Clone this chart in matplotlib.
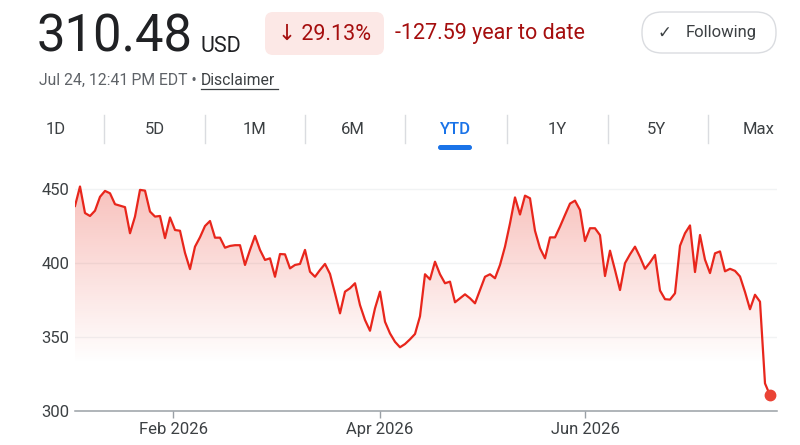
import matplotlib.pyplot as plt
from matplotlib.patches import FancyBboxPatch
import numpy as np
import pandas as pd

plt.rcParams['font.family'] = ['Roboto', 'DejaVu Sans']

# header data
price_text = '310.48'
currency = 'USD'
change_pct = '↓ 29.13%'
change_abs = '-127.59 year to date'
stamp = 'Jul 24, 12:41\u2009PM EDT • '
tabs = ['1D', '5D', '1M', '6M', 'YTD', '1Y', '5Y', 'Max']
active_tab = 'YTD'

# trading days of 2026 up to Jul 24 (NYSE holidays skipped)
holidays = ['2026-01-19', '2026-02-16', '2026-04-03',
            '2026-05-25', '2026-06-19', '2026-07-03']
closes = [
    438.8, 452.0, 434.0, 432.0, 435.6, 445.0, 449.0, 447.4, 440.0, 439.0,
    438.0, 420.3, 431.6, 449.7, 449.2, 435.0, 431.6, 432.0, 417.0, 431.0,
    422.5, 422.0, 407.0, 396.0, 411.2, 417.6, 425.2, 428.6, 417.3, 417.3,
    410.5, 411.7, 412.2, 412.2, 398.8, 409.0, 418.5, 409.0, 402.2, 403.3,
    390.8, 406.2, 406.0, 396.5, 398.8, 399.5, 409.0, 394.2, 390.8, 395.4,
    399.5, 392.7, 379.6, 366.0, 380.7, 383.0, 386.4, 371.6, 361.5, 354.2,
    369.4, 380.7, 360.3, 352.4, 346.7, 343.0, 345.2, 348.4, 352.0, 364.0,
    392.5, 389.0, 401.0, 392.5, 386.4, 387.5, 373.5, 376.2, 378.9, 376.2,
    372.8, 381.8, 390.8, 392.5, 389.8, 398.8, 411.2, 427.0, 444.6, 433.0,
    445.8, 444.0, 422.0, 410.1, 403.3, 417.5, 417.5, 424.8, 432.7, 440.4,
    442.4, 436.1, 415.0, 423.7, 423.7, 419.0, 391.3, 408.5, 395.4, 381.8,
    400.0, 406.0, 411.2, 404.2, 396.2, 400.5, 405.6, 381.5, 375.6, 375.3,
    379.6, 411.8, 420.3, 425.6, 394.0, 419.1, 402.4, 393.3, 406.7, 408.0,
    394.5, 396.2, 394.8, 391.0, 380.5, 368.8, 378.6, 373.9, 318.5, 310.48,
]
tick_months = ['2026-02-01', '2026-04-01', '2026-06-01']
tick_labels = ['Feb 2026', 'Apr 2026', 'Jun 2026']
y_ticks = [300, 350, 400, 450]

dates = pd.bdate_range('2026-01-02', '2026-07-24', freq='C', holidays=holidays)
x = np.arange(len(dates))
tick_pos = np.interp(pd.to_datetime(tick_months).values.astype('int64'),
                     dates.values.astype('int64'), x)

RED = '#e8261c'
DARK_RED = '#a50e0e'
INK = '#202124'
GREY = '#3c4043'

fig = plt.figure(figsize=(8, 4.45), dpi=100)

# overlay in pixel coordinates for the header part
ov = fig.add_axes([0, 0, 1, 1], zorder=0)
ov.set_xlim(0, 800)
ov.set_ylim(445, 0)
ov.axis('off')

ov.text(37, 52, price_text, fontsize=36.5, color=INK, va='baseline')
ov.text(200, 52, currency, fontsize=15.5, color=INK, va='baseline')

ov.add_patch(FancyBboxPatch((265, 12), 119, 43,
                            boxstyle='round,pad=0,rounding_size=8',
                            fc='#fce8e6', ec='none'))
ov.text(324.5, 34, change_pct, fontsize=15.5, color=DARK_RED,
        ha='center', va='center')
ov.text(395, 34, change_abs, fontsize=15.5, color=DARK_RED, va='center')

ov.add_patch(FancyBboxPatch((642, 12), 134, 41,
                            boxstyle='round,pad=0,rounding_size=20',
                            fc='white', ec='#dadce0', lw=1))
ov.text(664, 33, '✓', fontsize=12, color=GREY, ha='center', va='center',
        family=['DejaVu Sans'])
ov.text(686, 33, 'Following', fontsize=12, color=GREY, va='center')

ov.text(39, 80.5, stamp, fontsize=11.3, color='#5f6368', va='center')
ov.text(201, 80.5, 'Disclaimer', fontsize=11.3, color=GREY, va='center')
ov.plot([201, 278], [89, 89], color=GREY, lw=0.9)

tab_x = [56, 154.5, 254.5, 353, 455.5, 557, 656.5, 758.5]
for name, tx in zip(tabs, tab_x):
    on = name == active_tab
    ov.text(tx, 129, name, fontsize=12, ha='center', va='center',
            color='#1a73e8' if on else GREY,
            fontweight='medium' if on else 'normal')
    if on:
        ov.add_patch(FancyBboxPatch((438, 145), 34, 5,
                                    boxstyle='round,pad=0,rounding_size=2.5',
                                    fc='#1a73e8', ec='none'))
for sx in [104, 205, 305, 405, 507, 608, 708]:
    ov.plot([sx, sx], [115, 143], color='#dadce0', lw=1)

# price chart
ax = fig.add_axes([75 / 800, 34.3 / 445, 702 / 800, 230.7 / 445], zorder=1)
ax.patch.set_alpha(0)
y_top = 456.4
ax.set_xlim(0, 140.4)
ax.set_ylim(300, y_top)

for v in y_ticks[1:]:
    ax.axhline(v, color='#f1f3f4', lw=1, zorder=0)

fill = ax.fill_between(x, closes, 300, color='none', lw=0)
grad = np.zeros((256, 1, 4))
grad[:, 0, :3] = (0.918, 0.263, 0.208)
lv = np.linspace(y_top, 300, 256)
grad[:, 0, 3] = np.clip((lv - 332) / (y_top - 332), 0, 1) * 0.34
im = ax.imshow(grad, extent=[0, 140.4, 300, y_top], aspect='auto',
               origin='upper', zorder=1)
im.set_clip_path(fill.get_paths()[0], transform=ax.transData)

ax.plot(x, closes, color=RED, lw=1.6, zorder=3)
ax.plot(x[-1], closes[-1], 'o', ms=7.5, color='#ea4335', zorder=4)

for s in ['top', 'right', 'left']:
    ax.spines[s].set_visible(False)
ax.spines['bottom'].set_color('#9aa0a6')
ax.spines['bottom'].set_linewidth(1.1)

ax.set_xticks(tick_pos)
ax.set_xticklabels(tick_labels)
ax.set_yticks(y_ticks)
ax.tick_params(axis='x', length=5, width=1, color='#9aa0a6', pad=3,
               labelsize=12, labelcolor=GREY)
ax.tick_params(axis='y', length=0, pad=4, labelsize=12, labelcolor=GREY)

fig.savefig('out.png', dpi=100)
